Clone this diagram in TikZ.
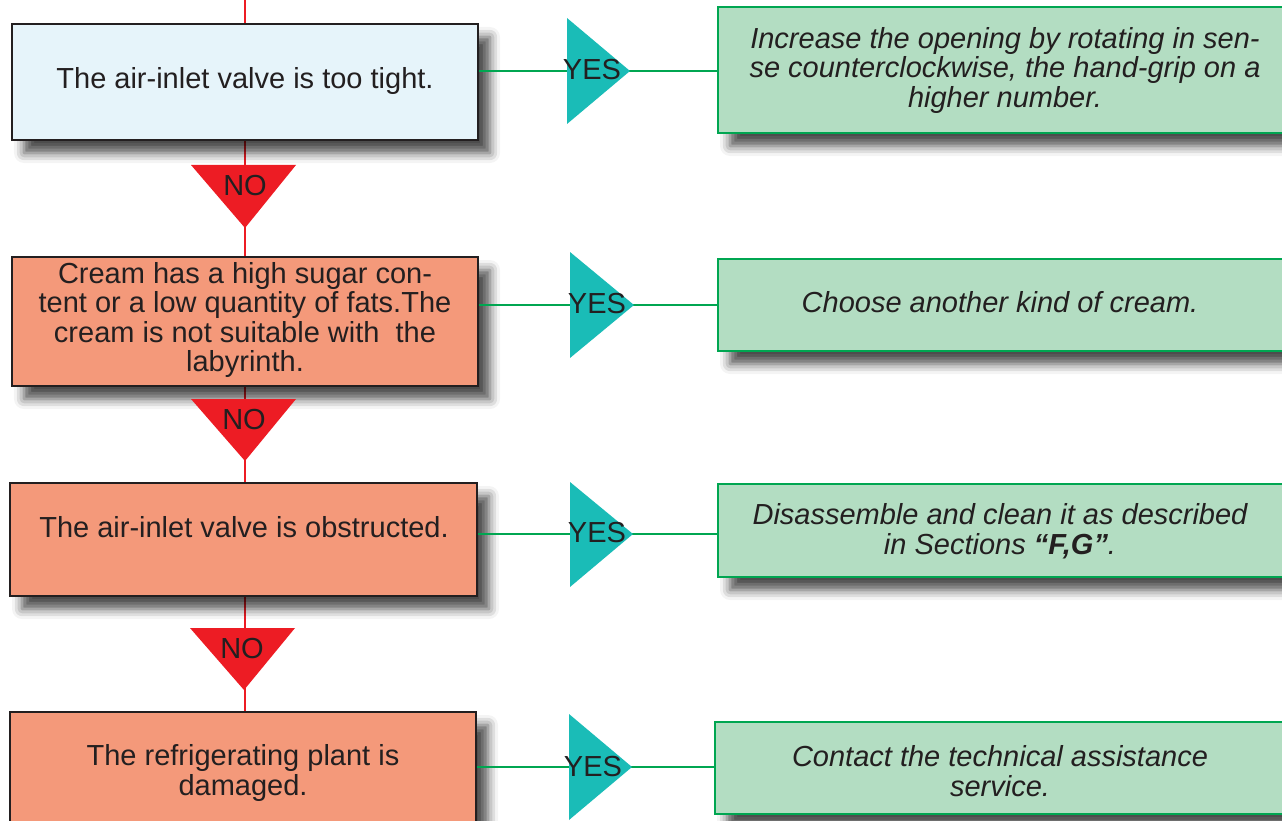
\documentclass[tikz,border=0pt]{standalone}
\usepackage{fontspec}
\setmainfont{Liberation Sans}
\usetikzlibrary{shadows.blur}
\definecolor{txtc}{HTML}{231F20}
\definecolor{bluec}{HTML}{E6F4FA}
\definecolor{salmonc}{HTML}{F4997A}
\definecolor{greenfc}{HTML}{B3DDC2}
\definecolor{greenlc}{HTML}{00A651}
\definecolor{tealc}{HTML}{1ABCB7}
\definecolor{redc}{HTML}{ED1C24}
\begin{document}
\begin{tikzpicture}[x=1pt,y=-1pt,
  shad/.style={blur shadow={shadow xshift=12pt, shadow yshift=-13pt, shadow blur radius=10pt, shadow opacity=70}},
  qbox/.style={draw=txtc, line width=2.8pt, rectangle, inner sep=0pt, shad},
  abox/.style={draw=greenlc, fill=greenfc, line width=2.8pt, rectangle, inner sep=0pt, shad},
  btxt/.style={text=txtc, align=center, inner sep=0pt, font=\fontsize{29}{29.5}\selectfont},
  gtxt/.style={btxt, font=\fontsize{29}{29.5}\selectfont\itshape},
  lbl/.style={text=txtc, inner sep=0pt, font=\fontsize{29}{29.5}\selectfont},
  rline/.style={draw=redc, line width=2.7pt},
  gline/.style={draw=greenlc, line width=2.7pt},
  notri/.style={fill=redc},
  yestri/.style={fill=tealc}]
\useasboundingbox (0,0) rectangle (1282,821);

% red main line
\coordinate (top) at (245,0);
\coordinate (bot) at (245,821);
\draw[rline] (top) -- (bot);

% yes apex coordinates
\coordinate (ya1) at (630,71);
\coordinate (ya2) at (634,305);
\coordinate (ya3) at (633,534);
\coordinate (ya4) at (632,767);

% question boxes
\node[qbox, fill=bluec, minimum width=466pt, minimum height=116pt] (b1) at (245,82) {};
\node[qbox, fill=salmonc, minimum width=466pt, minimum height=129pt] (b2) at (245,321.5) {};
\node[qbox, fill=salmonc, minimum width=467pt, minimum height=113pt] (b3) at (243.5,539.5) {};
\node[qbox, fill=salmonc, minimum width=466pt, minimum height=180pt] (b4) at (243,802) {};

% answer boxes
\node[abox, minimum width=600pt, minimum height=126pt] (g1) at (1018,70) {};
\node[abox, minimum width=600pt, minimum height=92pt] (g2) at (1018,305) {};
\node[abox, minimum width=600pt, minimum height=93pt] (g3) at (1018,530.5) {};
\node[abox, minimum width=600pt, minimum height=92pt] (g4) at (1015,768) {};

% yes connectors
\draw[gline] (b1.east |- ya1) -- (g1.west |- ya1);
\draw[gline] (b2.east |- ya2) -- (g2.west |- ya2);
\draw[gline] (b3.east |- ya3) -- (g3.west |- ya3);
\draw[gline] (b4.east |- ya4) -- (g4.west |- ya4);

% NO triangles
\fill[notri] (191,165) -- (296,165) -- (245,228) -- cycle;
\fill[notri] (191,399) -- (296,399) -- (245,461) -- cycle;
\fill[notri] (190,628) -- (295,628) -- (244,690) -- cycle;
\node[lbl] (n1) at (245,186) {NO};
\node[lbl] (n2) at (244,419.5) {NO};
\node[lbl] (n3) at (242,649) {NO};

% YES triangles
\fill[yestri] (567,18) -- (ya1) -- (567,124) -- cycle;
\fill[yestri] (570,252) -- (ya2) -- (570,358) -- cycle;
\fill[yestri] (570,482) -- (ya3) -- (570,587) -- cycle;
\fill[yestri] (569,714) -- (ya4) -- (569,820) -- cycle;
\node[lbl] (y1) at (592,70) {YES};
\node[lbl] (y2) at (597,304) {YES};
\node[lbl] (y3) at (597,533) {YES};
\node[lbl] (y4) at (593,767) {YES};

% question texts
\node[btxt] (t1) at (245,81.5) {The air-inlet valve is too tight.};
\node[btxt] (t2) at (245,320) {Cream has a high sugar con-\\tent or a low quantity of fats.The\\cream is not suitable with\ \ the\\labyrinth.};
\node[btxt] (t3) at (244,527.5) {The air-inlet valve is obstructed.};
\node[btxt] (t4) at (243,773) {The refrigerating plant is\\damaged.};

% answer texts
\node[gtxt] (a1) at (1005,70.5) {Increase the opening by rotating in sen-\\se counterclockwise, the hand-grip on a\\higher number.};
\node[gtxt] (a2) at (1000,302) {Choose another kind of cream.};
\node[gtxt] (a3) at (1000,531) {Disassemble and clean it as described\\in Sections \textbf{“F,G”}.};
\node[gtxt] (a4) at (1000,771) {Contact the technical assistance\\service.};
\end{tikzpicture}
\end{document}
